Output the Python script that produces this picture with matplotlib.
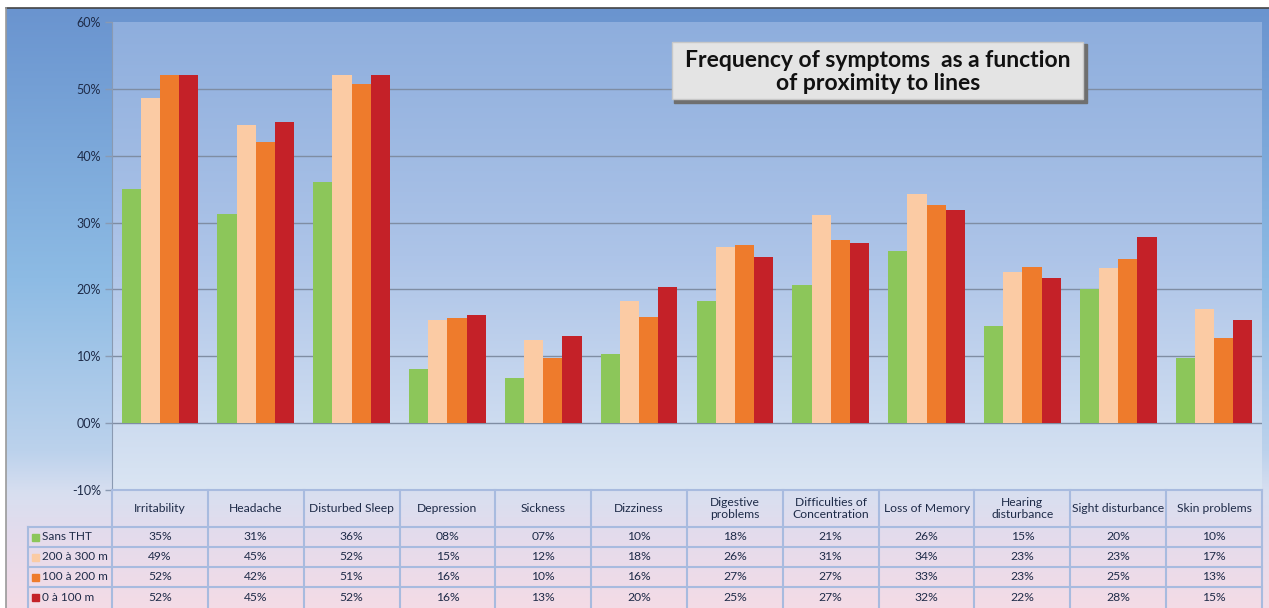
import numpy as np
import matplotlib
matplotlib.use('Agg')
import matplotlib.pyplot as plt
from matplotlib.colors import LinearSegmentedColormap
from matplotlib.patches import Rectangle

plt.rcParams['font.family'] = ['Lato', 'DejaVu Sans']

categories = ['Irritability', 'Headache', 'Disturbed Sleep', 'Depression', 'Sickness',
              'Dizziness', 'Digestive\nproblems', 'Difficulties of\nConcentration',
              'Loss of Memory', 'Hearing\ndisturbance', 'Sight disturbance', 'Skin problems']
series = ['Sans THT', '200 à 300 m', '100 à 200 m', '0 à 100 m']
sans_tht = [35.0, 31.3, 36.1, 8.1, 6.8, 10.4, 18.3, 20.7, 25.8, 14.6, 20.1, 9.7]
m200_300 = [48.7, 44.6, 52.0, 15.4, 12.4, 18.3, 26.3, 31.2, 34.2, 22.6, 23.2, 17.0]
m100_200 = [52.0, 42.1, 50.8, 15.7, 9.7, 15.9, 26.6, 27.4, 32.6, 23.3, 24.6, 12.8]
m0_100 = [52.0, 45.1, 52.0, 16.2, 13.0, 20.4, 24.8, 26.9, 31.9, 21.7, 27.8, 15.4]
values = [sans_tht, m200_300, m100_200, m0_100]
colors = ['#8cc65a', '#fbcba4', '#ee7b2c', '#c42128']
yticks = [-10, 0, 10, 20, 30, 40, 50, 60]

W, H = 1269, 608
fig = plt.figure(figsize=(W / 100, H / 100), dpi=100)

# background gradient (pixel coords)
bg = fig.add_axes([0, 0, 1, 1], zorder=0)
bg.set_xlim(0, W); bg.set_ylim(H, 0); bg.axis('off')
stops = [(0.0, '#6a94cf'), (0.45, '#8dbbe4'), (0.74, '#bcd2ec'), (0.81, '#d8dff0'),
         (0.87, '#e2dced'), (1.0, '#f4dbe6')]
cm = LinearSegmentedColormap.from_list('bgc', stops)
grad = np.linspace(0, 1, 256).reshape(-1, 1)
bg.imshow(grad, cmap=cm, aspect='auto', extent=[6, W, H, 8], interpolation='bicubic')
bg.plot([6, W], [8, 8], color='#444444', lw=1.2)
bg.plot([6, 6], [8, H], color='#9a9a9a', lw=1.2)

# main axes
L, R, T, B = 112, 1262, 22, 490
ax = fig.add_axes([L / W, 1 - B / H, (R - L) / W, (B - T) / H], zorder=1)
ax.set_xlim(-0.5, len(categories) - 0.5)
ax.set_ylim(-10, 60)
pcm = LinearSegmentedColormap.from_list('pa', [(0, '#8eaedd'), (0.5, '#adc4e8'), (1, '#dae5f3')])
ax.imshow(grad, cmap=pcm, aspect='auto', extent=[-0.5, len(categories) - 0.5, -10, 60],
          interpolation='bicubic', zorder=0)
ax.set_facecolor('none')
for y in yticks[1:-1]:
    ax.axhline(y, color='#7f8da3', lw=1.0, zorder=1)

x = np.arange(len(categories))
bw = 0.2
for i, (vals, c) in enumerate(zip(values, colors)):
    ax.bar(x + (i - 1.5) * bw, vals, bw, color=c, zorder=2, linewidth=0)

ax.set_xticks([])
ax.set_yticks(yticks)
ax.set_yticklabels([f'{v:02d}%' for v in yticks], color='#1e2b48', fontsize=9)
ax.tick_params(axis='y', length=5, width=1, color='#8a9ab2', pad=3)
for s in ['top', 'right', 'bottom']:
    ax.spines[s].set_visible(False)
ax.spines['left'].set_color('#8a9ab2')

# data table below the plot, sharing x with the chart
TB = H - B
tab = fig.add_axes([L / W, 0, (R - L) / W, TB / H], zorder=1)
tab.set_xlim(ax.get_xlim()); tab.set_ylim(TB, 0); tab.axis('off')
rows = [0, 37, 57, 77, 97, TB]
lab_left = -0.5 - (L - 28) / ((R - L) / len(categories))
lc = '#a8bbdf'
tab.plot([-0.5, 11.5], [0, 0], color=lc, lw=1.5, clip_on=False)
for r in rows[1:-1]:
    tab.plot([lab_left, 11.5], [r, r], color=lc, lw=1.5, clip_on=False)
for k in range(len(categories) + 1):
    tab.plot([k - 0.5, k - 0.5], [0, TB], color=lc, lw=1.5, clip_on=False)
tab.plot([lab_left, lab_left], [rows[1], TB], color=lc, lw=1.5, clip_on=False)
for k, cat in enumerate(categories):
    tab.text(k, rows[1] / 2, cat, ha='center', va='center', fontsize=8.7,
             color='#1e2b48', linespacing=1.05)
for j, (name, vals, c) in enumerate(zip(series, values, colors)):
    yc = (rows[j + 1] + rows[j + 2]) / 2
    tab.add_patch(Rectangle((lab_left + 0.04, yc - 3.5), 0.07, 7, color=c, clip_on=False))
    tab.text(lab_left + 0.15, yc, name, ha='left', va='center', fontsize=8.5,
             color='#1e2b48', clip_on=False)
    for k, v in enumerate(vals):
        tab.text(k, yc, f'{round(v):02d}%', ha='center', va='center', fontsize=8.7,
                 color='#1e2b48')

# title box
ov = fig.add_axes([0, 0, 1, 1], zorder=3)
ov.set_xlim(0, W); ov.set_ylim(H, 0); ov.axis('off')
ov.add_patch(Rectangle((674, 44), 413, 59, color='#6f6f6f'))
ov.add_patch(Rectangle((672, 42), 411, 57, facecolor='#e4e4e4', edgecolor='#c8c8c8', lw=1))
ov.text(878, 72, 'Frequency of symptoms  as a function\nof proximity to lines', ha='center',
        va='center', fontsize=16.5, fontweight='bold', color='#111111', linespacing=1.1)

fig.savefig('out.png', dpi=100)
